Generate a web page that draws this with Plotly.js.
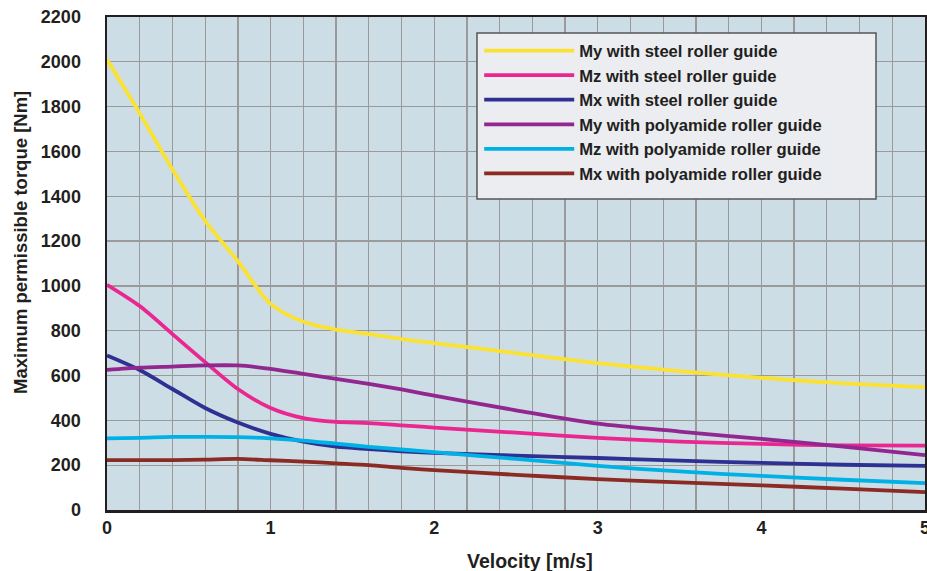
<!DOCTYPE html>
<html><head><meta charset="utf-8">
<script src="https://cdn.plot.ly/plotly-3.0.1.min.js"></script>
<style>html,body{margin:0;padding:0;background:#fff}#chart{width:927px;height:571px}</style>
</head><body><div id="chart"></div>
<script>
const velocity = [0, 0.2, 0.4, 0.6, 0.8, 1.0, 1.2, 1.4, 1.6, 1.8, 2.0, 2.5, 3.0, 3.5, 4.0, 4.5, 5.0];
const mySteel = [2010, 1770, 1520, 1290, 1110, 920, 840, 805, 785, 763, 745, 700, 655, 620, 590, 565, 548];
const mzSteel = [1005, 910, 785, 660, 540, 455, 410, 393, 388, 378, 368, 345, 322, 305, 295, 288, 287];
const mxSteel = [690, 625, 540, 455, 390, 340, 305, 283, 272, 262, 255, 243, 232, 220, 210, 202, 197];
const myPoly = [625, 635, 640, 645, 645, 630, 607, 585, 563, 538, 510, 445, 385, 350, 317, 283, 245];
const mzPoly = [320, 322, 326, 326, 325, 320, 310, 296, 282, 270, 258, 228, 197, 172, 152, 135, 120];
const mxPoly = [223, 223, 223, 225, 228, 222, 216, 208, 200, 188, 178, 157, 138, 123, 110, 95, 80];
const seriesNames = ["My with steel roller guide", "Mz with steel roller guide", "Mx with steel roller guide",
  "My with polyamide roller guide", "Mz with polyamide roller guide", "Mx with polyamide roller guide"];
const seriesColors = ["#fbe232", "#ea2690", "#2e3192", "#92278f", "#00b1e6", "#8b2b24"];
const seriesValues = [mySteel, mzSteel, mxSteel, myPoly, mzPoly, mxPoly];
const xTickVals = [0, 1, 2, 3, 4, 5];
const yTickVals = [0, 200, 400, 600, 800, 1000, 1200, 1400, 1600, 1800, 2000, 2200];
const xTitle = "Velocity [m/s]";
const yTitle = "Maximum permissible torque [Nm]";

const FONT = "Liberation Sans, Arial, sans-serif";
const INK = "#231f20";
const traces = seriesValues.map((v, i) => ({
  x: velocity, y: v, type: "scatter", mode: "lines", name: seriesNames[i],
  line: {color: seriesColors[i], width: 3.8, shape: "spline", smoothing: 0.8},
  cliponaxis: true
}));

const layout = {
  width: 927, height: 571,
  margin: {l: 107, r: 2, t: 17, b: 61},
  paper_bgcolor: "#ffffff",
  plot_bgcolor: "#ccdde6",
  showlegend: true,
  legend: {
    x: 0.455, y: 0.967, xanchor: "left", yanchor: "top",
    bgcolor: "rgba(0,0,0,0)", borderwidth: 0,
    font: {family: FONT, size: 16.6, color: INK, weight: "bold"},
    tracegroupgap: 0, itemwidth: 90
  },
  shapes: [{
    type: "rect", xref: "paper", yref: "paper",
    x0: 0.4523, x1: 0.9401, y0: 0.6308, y1: 0.9675,
    fillcolor: "#ebedf0", line: {color: "#555555", width: 1.5}, layer: "above"
  }],
  annotations: [
    {text: xTitle, xref: "paper", yref: "paper", x: 0.517, y: -0.1034, xanchor: "center", yanchor: "middle",
     showarrow: false, font: {family: FONT, size: 19.5, color: INK, weight: "bold"}},
    {text: yTitle, xref: "paper", yref: "paper", x: -0.1064, y: 0.5436, xanchor: "center", yanchor: "middle",
     textangle: -90, showarrow: false, font: {family: FONT, size: 18.5, color: INK, weight: "bold"}}
  ],
  xaxis: {
    range: [0, 5], tickvals: xTickVals, ticktext: xTickVals.map(String),
    showgrid: true, gridcolor: "#9a9a9a", gridwidth: 1.3,
    minor: {dtick: 0.2, showgrid: true, gridcolor: "#9a9a9a", gridwidth: 1.3},
    showline: true, linecolor: INK, linewidth: 2.5, mirror: true,
    ticks: "", zeroline: false, ticklabeloverflow: "allow",
    tickfont: {family: FONT, size: 18, color: INK, weight: "bold"}
  },
  yaxis: {
    range: [0, 2200], tickvals: yTickVals, ticktext: yTickVals.map(String),
    showgrid: true, gridcolor: "#9a9a9a", gridwidth: 1.3,
    showline: true, linecolor: INK, linewidth: 2.5, mirror: true,
    ticks: "outside", ticklen: 20, tickcolor: "rgba(0,0,0,0)", zeroline: false,
    tickfont: {family: FONT, size: 18, color: INK, weight: "bold"}
  }
};
Plotly.newPlot("chart", traces, layout, {displayModeBar: false, staticPlot: true});
</script></body></html>
